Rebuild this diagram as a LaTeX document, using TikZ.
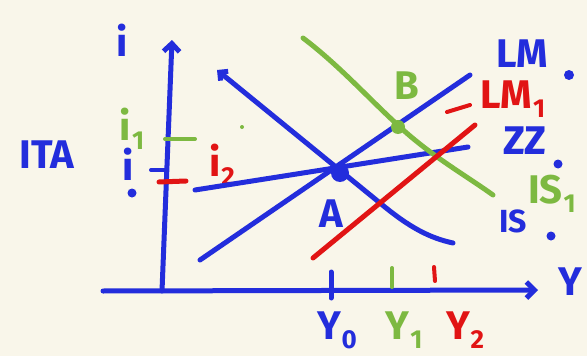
\documentclass[tikz,border=0pt]{standalone}
\usepackage{fontspec}
\setmainfont{Fira Sans}
\usetikzlibrary{arrows.meta}
\definecolor{pen}{RGB}{35,45,220}
\definecolor{penred}{RGB}{225,20,20}
\definecolor{pengreen}{RGB}{125,185,65}
\definecolor{paper}{RGB}{249,246,234}
\newcommand{\mysub}[1]{\kern0.02em\raisebox{-0.22em}{\scalebox{0.65}{#1}}}
\begin{document}
\begin{tikzpicture}[x=1pt,y=-1pt,
  ink/.style={line width=5pt, line cap=round, line join=round},
  thin ink/.style={line width=4pt, line cap=round},
  lbl/.style={font=\fontsize{40}{40}\selectfont\bfseries, inner sep=0pt},
  small lbl/.style={font=\fontsize{32}{32}\selectfont\bfseries, inner sep=0pt},
  barb/.style={-{Straight Barb[length=8pt,width=16pt]}},
  dotmark/.style={circle, fill, inner sep=0pt, minimum size=#1}]
\fill[paper] (0,0) rectangle (587,356);
\useasboundingbox (0,0) rectangle (587,356);

% axes
\coordinate (yb) at (162,291);
\coordinate (yt) at (172,40);
\coordinate (xl) at (103,291);
\coordinate (xr) at (538,290);
\draw[ink,pen,barb] (yb) -- (yt);
\draw[ink,pen,barb] (xl) -- (xr);
\node[lbl,pen] (ilab) at (122,40) {i};
\node[lbl,pen] (ylab) at (570,282) {Y};
\node[lbl,pen] (ita) at (47,155) {ITA};

% interest rate ticks
\coordinate (i1a) at (165,139); \coordinate (i1b) at (195,139);
\draw[thin ink,pengreen] (i1a) -- (i1b);
\node[lbl,pengreen] (i1) at (132,129) {i\mysub{1}};
\node[dotmark=4pt,fill=pengreen] (gdot) at (242,127) {};
\coordinate (i0a) at (151,170); \coordinate (i0b) at (166,170);
\draw[thin ink,pen] (i0a) -- (i0b);
\node[lbl,pen] (i0) at (128,164) {i};
\node[dotmark=9pt,fill=pen] (i0dot) at (132,193) {};
\coordinate (i2a) at (159,182); \coordinate (i2b) at (186,181);
\draw[ink,penred] (i2a) -- (i2b);
\node[lbl,penred] (i2) at (222,165) {i\mysub{2}};

% curves
\coordinate (zz0) at (195,190); \coordinate (zz1) at (468,147);
\draw[ink,pen] (zz0) -- (zz1);
\coordinate (lm0a) at (200,260); \coordinate (lm0b) at (470,75);
\draw[ink,pen] (lm0a) -- (lm0b);
\coordinate (is0a) at (217,70); \coordinate (is0m) at (380,203); \coordinate (is0b) at (453,243);
\draw[ink,pen,{Straight Barb[length=6pt,width=12pt]}-] (is0a) -- (is0m) .. controls (410,228) and (430,238) .. (is0b);
\coordinate (is1a) at (303,38); \coordinate (is1m) at (400,127); \coordinate (is1b) at (493,195);
\draw[ink,pengreen] (is1a) .. controls (340,66) and (370,100) .. (is1m) .. controls (430,155) and (465,175) .. (is1b);
\coordinate (lm1a) at (313,258); \coordinate (lm1b) at (475,125);
\draw[ink,penred] (lm1a) -- (lm1b);

% equilibria
\node[dotmark=18pt,fill=pen] (Apt) at (340,173) {};
\node[lbl,pen] (A) at (331,214) {A};
\node[dotmark=14pt,fill=pengreen] (Bpt) at (398,127) {};
\node[lbl,pengreen] (B) at (407,86) {B};

% curve labels
\node[lbl,pen] (lm0lab) at (522,54) {LM};
\node[dotmark=10pt,fill=pen] (lm0dot) at (569,75) {};
\coordinate (rd0) at (447,112); \coordinate (rd1) at (470,105);
\draw[thin ink,penred] (rd0) -- (rd1);
\node[lbl,penred] (lm1lab) at (513,99) {LM\mysub{1}};
\node[lbl,pen] (zzlab) at (525,141) {ZZ};
\node[dotmark=9pt,fill=pen] (zzdot) at (558,164) {};
\node[lbl,pengreen] (is1lab) at (552,194) {IS\mysub{1}};
\node[small lbl,pen] (is0lab) at (513,221) {IS};
\node[dotmark=9pt,fill=pen] (is0dot) at (551,236) {};

% output ticks
\coordinate (t0a) at (331,272); \coordinate (t0b) at (331,298);
\draw[ink,pen] (t0a) -- (t0b);
\coordinate (t1a) at (392,268); \coordinate (t1b) at (392,287);
\draw[thin ink,pengreen] (t1a) -- (t1b);
\coordinate (t2a) at (434,267); \coordinate (t2b) at (435,281);
\draw[thin ink,penred] (t2a) -- (t2b);
\node[lbl,pen] (Y0) at (337,330) {Y\mysub{0}};
\node[lbl,pengreen] (Y1) at (404,330) {Y\mysub{1}};
\node[lbl,penred] (Y2) at (465,330) {Y\mysub{2}};
\end{tikzpicture}
\end{document}
